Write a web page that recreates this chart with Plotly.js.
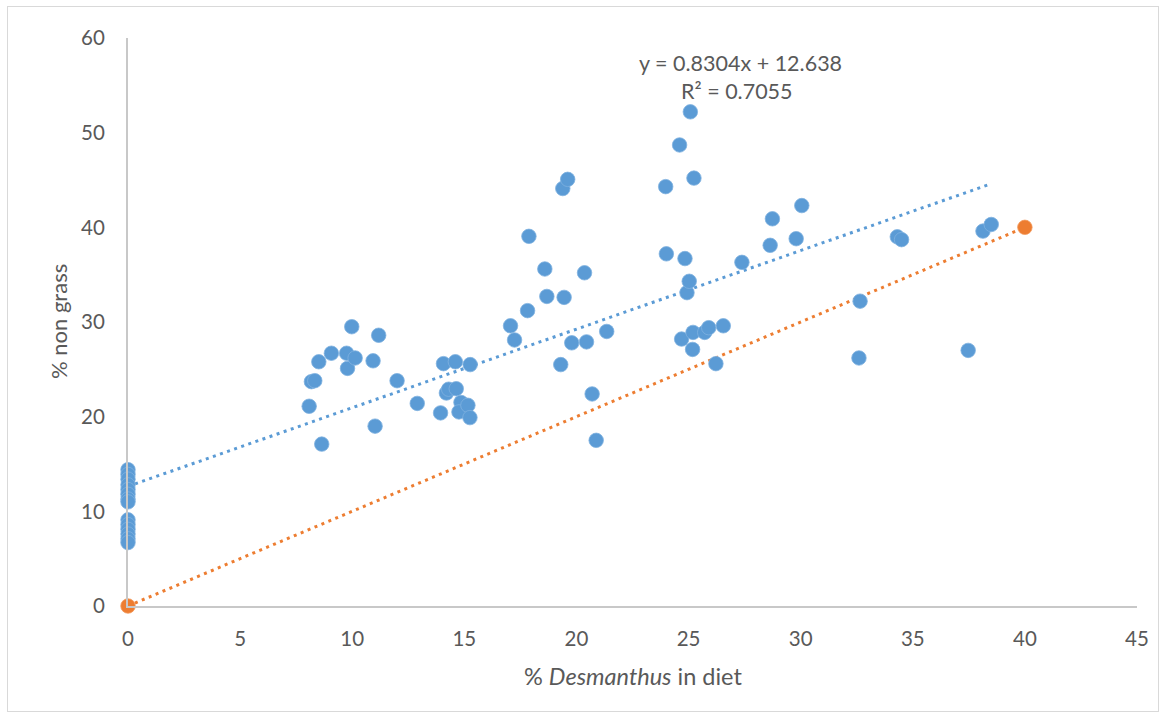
<!DOCTYPE html>
<html>
<head>
<meta charset="utf-8">
<script src="https://cdn.plot.ly/plotly-3.0.1.min.js"></script>
<style>
html,body{margin:0;padding:0;background:#fff;}
#wrap{position:relative;width:1169px;height:720px;}
#chart{width:1169px;height:720px;}
#frame{position:absolute;left:7px;top:6px;width:1152px;height:706px;border:1px solid #D9D9D9;pointer-events:none;box-sizing:border-box;}
</style>
</head>
<body>
<div id="wrap"><div id="chart"></div><div id="frame"></div></div>
<script>
// Observed data: % Desmanthus in diet vs % non grass
const desmanthus = [
  0,0,0,0,0,0,0,0,0,0,0,0,0,0,
  8.08,8.18,8.33,8.51,8.64,9.07,9.75,9.79,9.98,10.13,10.93,11.02,11.18,12.0,12.9,
  13.94,14.07,14.2,14.3,14.6,14.64,14.85,14.76,15.16,15.25,15.26,
  17.06,17.24,17.82,17.88,18.59,18.68,19.3,19.39,19.45,19.61,19.79,20.36,20.45,20.7,20.88,21.35,
  23.98,24.01,24.6,24.69,24.84,24.93,25.03,25.08,25.18,25.2,25.24,25.72,25.9,26.22,26.55,
  27.38,28.64,28.74,29.8,30.05,32.6,32.65,34.31,34.5,37.47,38.13,38.5
];
const nonGrass = [
  14.4,13.9,13.4,12.8,12.3,11.8,11.3,11.0,9.1,8.6,8.1,7.6,7.1,6.7,
  21.1,23.7,23.8,25.8,17.1,26.7,26.7,25.1,29.5,26.2,25.9,19.0,28.6,23.8,21.4,
  20.4,25.6,22.5,22.9,25.8,22.95,21.5,20.5,21.2,19.9,25.5,
  29.6,28.1,31.2,39.05,35.6,32.7,25.5,44.1,32.6,45.07,27.8,35.2,27.9,22.4,17.5,29.0,
  44.3,37.2,48.7,28.2,36.7,33.1,34.3,52.2,27.1,28.9,45.2,28.9,29.4,25.6,29.6,
  36.3,38.1,40.9,38.8,42.3,26.2,32.2,39.0,38.7,27.0,39.6,40.3
];
// 1:1 reference series
const refX = [0, 40];
const refY = [0, 40];
// Trendline coefficients (as shown on chart)
const slope = 0.8304;
const intercept = 12.638;
const r2 = 0.7055;
// Tick labels
const xTicks = [0,5,10,15,20,25,30,35,40,45];
const yTicks = [0,10,20,30,40,50,60];

const blue = '#5B9BD5', orange = '#ED7D31';
const xMin = Math.min(...desmanthus), xMax = Math.max(...desmanthus);
const trendX = [xMin, xMax];
const trendY = trendX.map(v => slope * v + intercept);

const font = 'Lato, "Liberation Sans", sans-serif';
const txt = '#595959';
const traces = [
  {x: trendX, y: trendY, mode: 'lines', line: {color: blue, width: 3, dash: '3px,4.5px'}, hoverinfo: 'skip', cliponaxis: false},
  {x: refX, y: refY, mode: 'lines', line: {color: orange, width: 3, dash: '3px,4.5px'}, hoverinfo: 'skip', cliponaxis: false},
  {x: desmanthus, y: nonGrass, mode: 'markers', marker: {color: blue, size: 14.5, line: {color: '#7FB1E0', width: 0.8}}, cliponaxis: false},
  {x: refX, y: refY, mode: 'markers', marker: {color: orange, size: 14.5, line: {color: '#F29A5E', width: 0.8}}, cliponaxis: false}
];

const layout = {
  width: 1169, height: 720,
  margin: {l: 128, r: 32, t: 38, b: 114},
  paper_bgcolor: '#fff', plot_bgcolor: '#fff',
  showlegend: false,
  font: {family: font, size: 20.5, color: txt},
  xaxis: {
    range: [0, 45], tickvals: xTicks, ticktext: xTicks.map(String),
    showgrid: false, zeroline: false, showline: true, linecolor: '#C8C8C8', linewidth: 2,
    ticks: '', ticklabelstandoff: 13, tickfont: {family: font, size: 20.5, color: txt}
  },
  yaxis: {
    range: [0, 60], tickvals: yTicks, ticktext: yTicks.map(String),
    showgrid: false, zeroline: false, showline: true, linecolor: '#C8C8C8', linewidth: 2,
    ticks: '', ticklabelstandoff: 17, tickfont: {family: font, size: 20.5, color: txt}
  },
  annotations: [
    {xref: 'paper', yref: 'paper', x: (740-128)/1009, y: (606-63)/568, xanchor: 'center', yanchor: 'middle',
     text: 'y = ' + slope + 'x + ' + intercept, showarrow: false, font: {family: font, size: 21.5, color: txt}},
    {xref: 'paper', yref: 'paper', x: (737-128)/1009, y: (606-91)/568, xanchor: 'center', yanchor: 'middle',
     text: 'R² = ' + r2, showarrow: false, font: {family: font, size: 21.5, color: txt}},
    {xref: 'paper', yref: 'paper', x: (58-128)/1009, y: 0.5, xanchor: 'center', yanchor: 'middle', textangle: -90,
     text: '% non grass', showarrow: false, font: {family: font, size: 22, color: txt}},
    {xref: 'paper', yref: 'paper', x: (633-128)/1009, y: (606-676)/568, xanchor: 'center', yanchor: 'middle',
     text: '% <i>Desmanthus</i> in diet', showarrow: false, font: {family: font, size: 23.5, color: txt}}
  ]
};

Plotly.newPlot('chart', traces, layout, {displayModeBar: false, staticPlot: true});
</script>
</body>
</html>
